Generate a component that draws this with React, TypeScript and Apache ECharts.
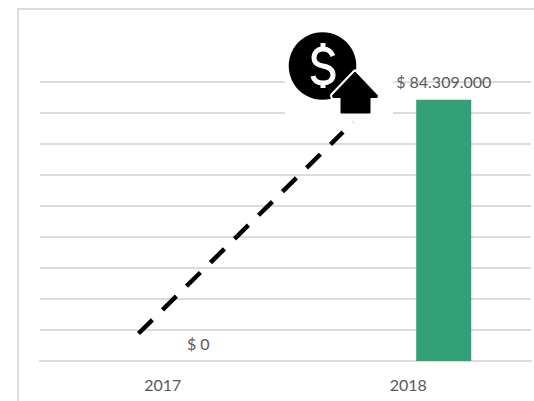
import React, { useEffect, useRef } from "react";
import * as echarts from "echarts";

const categories = ["2017", "2018"];
const emptySeries: (number | null)[] = [null, null];
const revenue = [0, 84309000];
const axisMax = 90000000;
const axisStep = 10000000;

const FONT = "Lato";
const TEXT = "#595959";
const GRID = "#dcdcdc";
const GREEN = "#32a178";

const dollarPath =
  "M333 56 C331 51 327 49 323 49 C317 49 314 53 314 58 C314 63 318 65 323 66 C329 67 333 70 333 75 C333 80 329 83 323 83 C318 83 314 81 313 76 M323 43 L323 49 M323 83 L323 88";
const arrowPoints = [
  [355, 72],
  [377.5, 95.5],
  [377, 97.5],
  [370, 97.5],
  [370, 113],
  [341, 113],
  [341, 97.5],
  [333, 97.5],
  [332.5, 95.5],
];

function money(v: number) {
  return "$ " + String(Math.round(v)).replace(/\B(?=(\d{3})+(?!\d))/g, ".");
}

echarts.graphic.registerShape("dollarSign", echarts.graphic.extendPath(dollarPath, {}));

export default function App() {
  const ref = useRef<HTMLDivElement>(null);
  useEffect(() => {
    const chart = echarts.init(ref.current!, undefined, { renderer: "svg" });
    chart.setOption({
      animation: false,
      backgroundColor: "#ffffff",
      grid: { left: 40, right: 3, top: 82, bottom: 40 },
      xAxis: {
        type: "category",
        data: categories,
        axisTick: { show: false },
        axisLine: { show: true, lineStyle: { color: GRID, width: 2 } },
        axisLabel: { color: TEXT, fontFamily: FONT, fontSize: 16, margin: 15 },
      },
      yAxis: {
        type: "value",
        min: 0,
        max: axisMax,
        interval: axisStep,
        axisLabel: { show: false },
        axisTick: { show: false },
        axisLine: { show: false },
        splitLine: { show: true, lineStyle: { color: GRID, width: 2 } },
      },
      series: [
        { type: "bar", name: "Base", data: emptySeries, barWidth: 55, barGap: "29%" },
        {
          type: "bar",
          name: "Revenue",
          data: revenue,
          barWidth: 55,
          barGap: "29%",
          itemStyle: { color: GREEN },
          label: {
            show: true,
            position: "top",
            distance: 10,
            color: TEXT,
            fontFamily: FONT,
            fontSize: 16,
            formatter: (p: any) => money(p.value),
          },
        },
      ],
      graphic: [
        { type: "line", z: 5, shape: { x1: 18, y1: 9, x2: 534, y2: 9 }, style: { stroke: GRID, lineWidth: 2 } },
        { type: "line", z: 5, shape: { x1: 18, y1: 8, x2: 18, y2: 401 }, style: { stroke: GRID, lineWidth: 2 } },
        { type: "rect", z: 6, shape: { x: 285, y: 30, width: 108, height: 92 }, style: { fill: "#ffffff" } },
        {
          type: "line",
          z: 7,
          shape: { x1: 138.5, y1: 333.5, x2: 343, y2: 132 },
          style: { stroke: "#000000", lineWidth: 4.5, lineDash: [19.5, 14.2] },
        },
        {
          type: "line",
          z: 7,
          shape: { x1: 352, y1: 121, x2: 355, y2: 124 },
          style: { stroke: "#d0d0d0", lineWidth: 1 },
        },
        { type: "circle", z: 8, shape: { cx: 322.5, cy: 66, r: 33.8 }, style: { fill: "#000000" } },
        {
          type: "dollarSign",
          z: 9,
          style: { fill: "none", stroke: "#ffffff", lineWidth: 5 },
        },
        {
          type: "polygon",
          z: 10,
          shape: { points: arrowPoints },
          style: { fill: "#ffffff", stroke: "#ffffff", lineWidth: 5, lineJoin: "round" },
        },
        {
          type: "polygon",
          z: 11,
          shape: { points: arrowPoints },
          style: { fill: "#000000", stroke: "#000000", lineWidth: 1, lineJoin: "round" },
        },
      ],
    });
    return () => chart.dispose();
  }, []);
  return (
    <div
      ref={ref}
      style={{ position: "absolute", left: 0, top: 0, width: 534, height: 401 }}
    />
  );
}
